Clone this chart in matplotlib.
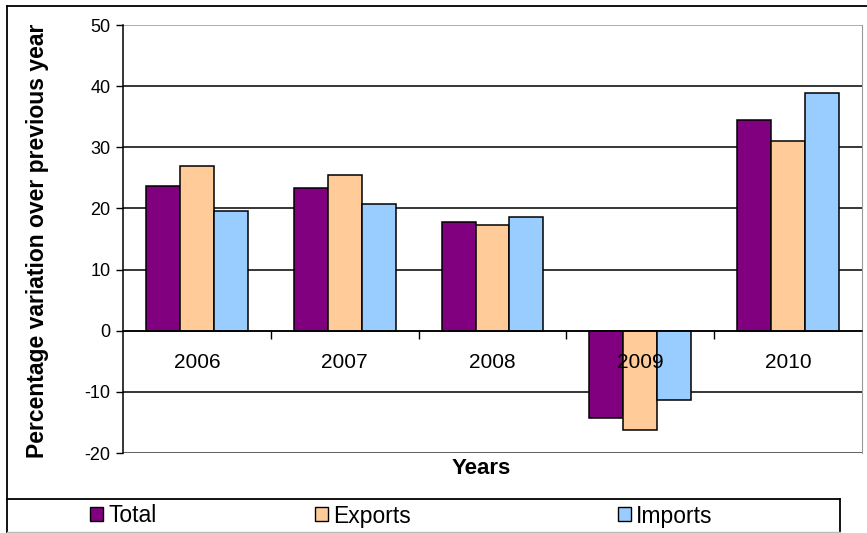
import numpy as np
import matplotlib.pyplot as plt
from matplotlib.patches import Patch
from matplotlib.lines import Line2D

plt.rcParams['font.family'] = ['Liberation Sans', 'DejaVu Sans']
plt.rcParams['axes.unicode_minus'] = False

# Variacao percentual sobre o ano anterior
years = ['2006', '2007', '2008', '2009', '2010']
total = [23.7, 23.4, 17.8, -14.2, 34.5]
exports = [27.0, 25.5, 17.3, -16.2, 31.0]
imports = [19.6, 20.7, 18.6, -11.3, 38.8]

series = [('Total', total, '#800080'),
          ('Exports', exports, '#FFCC99'),
          ('Imports', imports, '#99CCFF')]

fig = plt.figure(figsize=(8.67, 5.33), dpi=100)
ax = fig.add_axes([123/867, 1 - 453/533, 739/867, 428/533])
ax.set_axisbelow(False)  # rotulos do eixo x por cima das barras

x = np.arange(len(years))
w = 0.23
for i, (name, vals, cor) in enumerate(series):
    ax.bar(x + (i - 1) * w, vals, w, color=cor, edgecolor='black',
           linewidth=1.1, zorder=2)

ax.set_xlim(-0.5, len(years) - 0.5)
ax.set_ylim(-20, 50)

# linhas de grade
for yv in range(-10, 50, 10):
    ax.axhline(yv, color='black', linewidth=1.1, zorder=1)
ax.axhline(50, color='#999999', linewidth=1.1, zorder=1)
ax.axhline(-20, color='#333333', linewidth=1.1, zorder=1)

ax.spines['top'].set_visible(False)
ax.spines['right'].set_color('#999999')
ax.spines['left'].set_color('black')
ax.spines['left'].set_linewidth(1.1)
ax.spines['bottom'].set_position(('data', 0))
ax.spines['bottom'].set_linewidth(1.1)

ax.set_yticks(range(-20, 51, 10))
ax.tick_params(axis='y', labelsize=13, length=5, width=1, pad=4)

ax.set_xticks(x)
ax.set_xticklabels(years, fontsize=15)
ax.set_xticks(np.arange(0.5, len(years) - 0.5, 1), minor=True)
ax.tick_params(axis='x', which='major', length=0, pad=16)
ax.tick_params(axis='x', which='minor', length=6, width=1, direction='out')

fig.text(38/867, 1 - 241/533, 'Percentage variation over previous year',
         rotation=90, ha='center', va='center', fontsize=16.5, fontweight='bold')
fig.text(481/867, 1 - 468/533, 'Years', ha='center', va='center',
         fontsize=16, fontweight='bold')

# moldura do grafico e da legenda
fig.add_artist(Line2D([7/867, 1], [1 - 6/533, 1 - 6/533], color='black', linewidth=1.3))
fig.add_artist(Line2D([7/867, 7/867], [1 - 6/533, 0], color='black', linewidth=1.3))
fig.add_artist(Line2D([7/867, 840/867], [1 - 499/533, 1 - 499/533], color='black', linewidth=1.3))
fig.add_artist(Line2D([840/867, 840/867], [1 - 499/533, 0], color='black', linewidth=1.3))
fig.add_artist(Line2D([7/867, 840/867], [1 - 532/533, 1 - 532/533], color='#bbbbbb', linewidth=1))

# legenda
posx = [90, 315, 618]
for (name, vals, cor), px in zip(series, posx):
    h = Patch(facecolor=cor, edgecolor='black', linewidth=1)
    leg = fig.legend([h], [name], loc='center left',
                     bbox_to_anchor=(px/867, 1 - 516/533), frameon=False,
                     fontsize=16.5, handlelength=0.55, handleheight=0.55,
                     handletextpad=0.25, borderaxespad=0, borderpad=0)

fig.savefig('out.png', dpi=100)
